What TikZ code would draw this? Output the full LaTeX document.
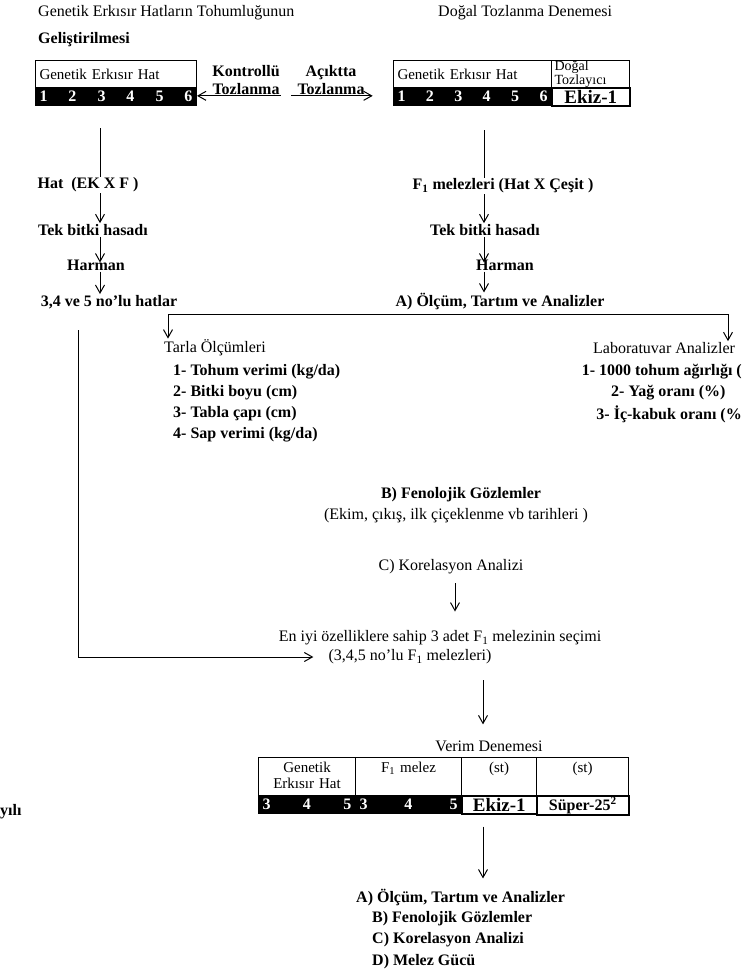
\documentclass[tikz,border=0pt]{standalone}
\usepackage{fontspec}
\setmainfont{Liberation Serif}
\usetikzlibrary{arrows.meta}

\begin{document}
\begin{tikzpicture}[x=1pt,y=-1pt]
% Styles
\tikzstyle{fleche}=[->,>={Straight Barb[length=8pt,width=9pt]},line width=1pt]
\tikzstyle{trait}=[line width=1pt]
\tikzstyle{gras}=[inner sep=1pt,font=\fontsize{16}{18}\selectfont\bfseries]
\tikzstyle{maigre}=[inner sep=1pt,font=\fontsize{16}{18}\selectfont]
\tikzstyle{entete}=[draw,line width=1pt,anchor=north west,align=left,inner sep=4pt,minimum height=27pt,font=\fontsize{15}{16}\selectfont]
\tikzstyle{case}=[draw,line width=1pt,anchor=north west,align=center,inner sep=4pt,text depth=19pt,minimum height=38pt,font=\fontsize{15}{16}\selectfont]
\tikzstyle{bande}=[draw,line width=1pt,fill=black,text=white,anchor=north west,inner xsep=4pt,inner ysep=2pt,minimum height=18pt,font=\fontsize{16}{17}\selectfont\bfseries]
\tikzstyle{temoin}=[draw,line width=1.6pt,fill=white,anchor=north west,inner sep=1pt,minimum height=18pt,font=\fontsize{19}{20}\selectfont\bfseries]
% Dimensions
\def\ColG{100}
\def\ColD{484}
\fill[white] (0,0) rectangle (744,977);
\useasboundingbox (0,0) rectangle (744,977);
% Titres
\node[maigre,anchor=west] (titreG) at (37,13) {Genetik Erkısır Hatların Tohumluğunun};
\node[gras,anchor=west] (titreG2) at (37,40) {Geliştirilmesi};
\node[maigre,anchor=west] (titreD) at (437,13) {Doğal Tozlanma Denemesi};
% Tablo sol
\node[entete,text width=153pt] (hatG) at (35,60) {Genetik Erkısır Hat};
\node[bande,text width=153pt] (bandeG) at (35,87) {1\hfill 2\hfill 3\hfill 4\hfill 5\hfill 6};
% Tablo sag
\node[entete,text width=150pt] (hatD) at (393,60) {Genetik Erkısır Hat};
\node[entete,text width=72pt,inner xsep=3pt,inner ysep=0.5pt,font=\fontsize{14}{14}\selectfont] (dogal) at (551,60) {Doğal\\Tozlayıcı};
\node[bande,text width=150pt] (bandeD) at (393,87) {1\hfill 2\hfill 3\hfill 4\hfill 5\hfill 6};
\node[temoin,minimum width=78pt] (ekizD) at (551,87) {Ekiz-1};
% Tozlanma
\node[gras,align=center] (kontrol) at (246,80) {Kontrollü\\Tozlanma};
\node[gras,align=center] (acik) at (331,80) {Açıktta\\Tozlanma};
% Noeuds gauche
\coordinate (cG) at (\ColG,128);
\node[gras] (hat) at (88,185) {Hat\ \ (EK X F )};
\node[gras] (tekG) at (93,230) {Tek bitki hasadı};
\node[gras] (harG) at (96,265) {Harman};
\node[gras] (hatlar) at (109,302) {3,4 ve 5 no'lu hatlar};
\coordinate (cL) at (78,330);
% Noeuds droite
\coordinate (cD) at (\ColD,130);
\node[gras] (f1) at (503,186) {F\textsubscript{1} melezleri (Hat X Çeşit )};
\node[gras] (tekD) at (485,230) {Tek bitki hasadı};
\node[gras] (harD) at (505,265) {Harman};
\node[gras] (olcum) at (500,302) {A) Ölçüm, Tartım ve Analizler};
% Dallar
\coordinate (brG) at (168,314);
\coordinate (brD) at (728,314);
\node[maigre,anchor=west] (tarla) at (163,348) {Tarla Ölçümleri};
\node[maigre,anchor=west] (labo) at (592,348) {Laboratuvar Analizler};
\node[gras,anchor=west] (tar1) at (172,372) {1- Tohum verimi (kg/da)};
\node[gras,anchor=west] (tar2) at (172,393) {2- Bitki boyu (cm)};
\node[gras,anchor=west] (tar3) at (172,414) {3- Tabla çapı (cm)};
\node[gras,anchor=west] (tar4) at (172,435) {4- Sap verimi (kg/da)};
\node[gras,anchor=east] (lab1) at (743,372) {1- 1000 tohum ağırlığı (};
\node[gras,anchor=west] (lab2) at (610,393) {2- Yağ oranı (\%)};
\node[gras,anchor=east] (lab3) at (743,414) {3- İç-kabuk oranı (\%};
\node[gras] (fenol) at (461,495) {B) Fenolojik Gözlemler};
\node[maigre] (ekim) at (456,516) {(Ekim, çıkış, ilk çiçeklenme vb tarihleri )};
\node[maigre] (korel) at (451,567) {C) Korelasyon Analizi};
\coordinate (cK) at (455,580);
\node[maigre] (eniyi) at (440,638) {En iyi özelliklere sahip 3 adet F\textsubscript{1} melezinin seçimi};
\node[maigre] (melez) at (410,657) {(3,4,5 no'lu F\textsubscript{1} melezleri)};
% Verim denemesi
\coordinate (cV) at (483,680);
\node[maigre] (verim) at (489,746) {Verim Denemesi};
\node[case,text width=89pt] (vg) at (258,757) {Genetik\\Erkısır Hat};
\node[case,text width=98pt] (vf) at (355,757) {F\textsubscript{1} melez};
\node[case,text width=67pt] (vs1) at (461,757) {(st)};
\node[case,text width=84pt] (vs2) at (536,757) {(st)};
\node[bande,text width=89pt] (vb1) at (258,795) {3\hfill 4\hfill 5};
\node[bande,text width=98pt] (vb2) at (355,795) {3\hfill 4\hfill 5\hspace{14pt}};
\node[temoin,minimum width=75pt] (vek) at (461,795) {Ekiz-1};
\node[temoin,minimum width=92pt,font=\fontsize{16}{18}\selectfont\bfseries] (vsu) at (536,795) {Süper-25\textsuperscript{2}};
\node[gras,anchor=west] (yili) at (-1,812) {yılı};
\node[gras,anchor=west] (resA) at (355,898) {A) Ölçüm, Tartım ve Analizler};
\node[gras,anchor=west] (resB) at (371,919) {B) Fenolojik Gözlemler};
\node[gras,anchor=west] (resC) at (371,940) {C) Korelasyon Analizi};
\node[gras,anchor=west] (resD) at (371,962) {D) Melez Gücü};
% Fleches
\draw[fleche] (kontrol.south east) -- (kontrol.south east -| bandeG.east);
\draw[fleche] ([xshift=-5pt]acik.south west) -- ([xshift=7pt]acik.south east);
\draw[trait] (cG) -- (hat.north -| cG);
\draw[fleche] (hat.south -| cG) -- (tekG.north -| cG);
\draw[fleche] (tekG.south -| cG) -- ([yshift=-4pt]harG.north -| cG);
\draw[fleche] (harG.south -| cG) -- (hatlar.north -| cG);
\draw[fleche] (cL) |- ([xshift=-14pt]melez.west);
\draw[trait] (cD) -- (f1.north -| cD);
\draw[fleche] (f1.south -| cD) -- (tekD.north -| cD);
\draw[fleche] (tekD.south -| cD) -- ([yshift=-4pt]harD.north -| cD);
\draw[fleche] (harD.south -| cD) -- (olcum.north -| cD);
\draw[trait] (brG) -- (brD);
\draw[fleche] (brG) -- (tarla.north -| brG);
\draw[fleche] (brD) -- (labo.north -| brD);
\draw[fleche] ([yshift=-8pt]korel.south -| cK) -- ([yshift=18pt]eniyi.north -| cK);
\draw[fleche] (cV) -- ([yshift=15pt]verim.north -| cV);
\draw[fleche] ([yshift=-12pt]vek.south -| cV) -- ([yshift=10pt]resA.north -| cV);
\end{tikzpicture}
\end{document}
